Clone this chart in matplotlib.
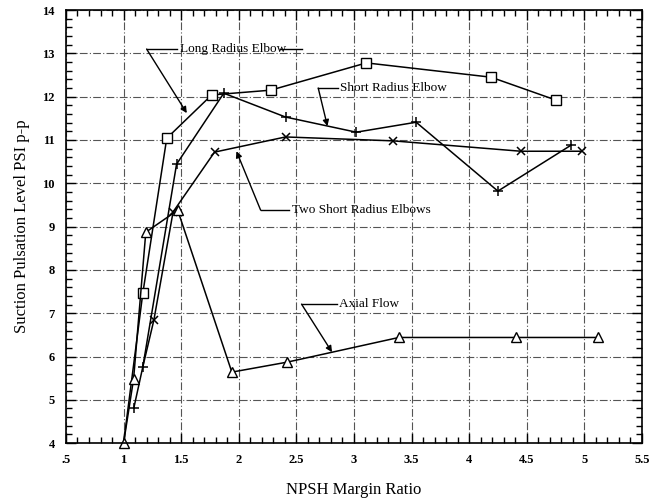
import matplotlib
matplotlib.use("Agg")
import matplotlib.pyplot as plt
import numpy as np
from matplotlib.ticker import MultipleLocator, FuncFormatter

plt.rcParams['font.family'] = ['Liberation Serif', 'DejaVu Serif']

# Long Radius Elbow (squares)
long_x = [1.0, 1.167, 1.375, 1.765, 2.277, 3.108, 4.19, 4.755]
long_y = [4.0, 7.46, 11.04, 12.04, 12.15, 12.78, 12.45, 11.92]

# Short Radius Elbow (plus)
short_x = [1.089, 1.167, 1.46, 1.87, 2.406, 3.02, 3.54, 4.25, 4.885]
short_y = [4.81, 5.76, 10.44, 12.08, 11.53, 11.18, 11.41, 9.82, 10.88]

# Two Short Radius Elbows (x)
two_x = [1.167, 1.263, 1.43, 1.79, 2.406, 3.34, 4.45, 4.98]
two_y = [5.76, 6.84, 9.34, 10.72, 11.07, 10.98, 10.74, 10.74]

# Axial Flow (triangles)
axial_x = [1.0, 1.087, 1.193, 1.47, 1.94, 2.42, 3.39, 4.41, 5.12]
axial_y = [4.0, 5.48, 8.87, 9.38, 5.64, 5.87, 6.44, 6.44, 6.44]

fig = plt.figure(figsize=(6.5, 5.03), dpi=100)
ax = fig.add_axes([0.1015, 0.119, 0.886, 0.861])

lw = 1.1
ax.plot(long_x, long_y, color='black', lw=lw, marker='s', ms=6.5,
        mfc='white', mec='black', mew=1.0, markevery=list(range(1, len(long_x))))
ax.plot(short_x, short_y, color='black', lw=lw, marker='+', ms=7, mew=1.1)
ax.plot(two_x, two_y, color='black', lw=lw, marker='x', ms=6, mew=1.1,
        markevery=list(range(1, len(two_x))))
ax.plot(axial_x, axial_y, color='black', lw=lw, marker='^', ms=6.5,
        mfc='white', mec='black', mew=1.0, clip_on=False)

ax.set_xlim(0.5, 5.5)
ax.set_ylim(4, 14)
ax.xaxis.set_major_locator(MultipleLocator(0.5))
ax.xaxis.set_minor_locator(MultipleLocator(0.1))
ax.yaxis.set_major_locator(MultipleLocator(1))
ax.yaxis.set_minor_locator(MultipleLocator(0.2))


def xfmt(v, pos):
    s = ('%g' % v)
    if s.startswith('0.'):
        s = s[1:]
    return s


ax.xaxis.set_major_formatter(FuncFormatter(xfmt))
ax.tick_params(which='both', direction='in', top=True, right=True,
               labelsize=9, width=1.0, color='black')
ax.tick_params(which='major', length=7, pad=8)
ax.tick_params(which='minor', length=4)
for lab in ax.get_xticklabels() + ax.get_yticklabels():
    lab.set_fontweight('bold')

ax.grid(True, which='major', color='#555555', lw=0.8, linestyle=(0, (7, 2, 1, 2)))
for sp in ax.spines.values():
    sp.set_linewidth(1.2)

ax.set_xlabel('NPSH Margin Ratio', fontsize=12, labelpad=11)
ax.set_ylabel('Suction Pulsation Level PSI p-p', fontsize=12, labelpad=9)

arrow_kw = dict(arrowstyle='-|>', color='black', lw=1.0, mutation_scale=9,
                shrinkA=0, shrinkB=0)
fs = 9.5

# Long Radius Elbow
ax.plot([1.20, 1.46], [13.1, 13.1], color='black', lw=1.0)
ax.plot([2.36, 2.55], [13.1, 13.1], color='black', lw=1.0)
ax.annotate('', xy=(1.549, 11.62), xytext=(1.20, 13.1), arrowprops=arrow_kw)
ax.text(1.49, 13.1, 'Long Radius Elbow', fontsize=fs, va='center', ha='left')

# Short Radius Elbow
ax.plot([2.69, 2.86], [12.2, 12.2], color='black', lw=1.0)
ax.annotate('', xy=(2.77, 11.32), xytext=(2.69, 12.2), arrowprops=arrow_kw)
ax.text(2.88, 12.2, 'Short Radius Elbow', fontsize=fs, va='center', ha='left')

# Two Short Radius Elbows
ax.plot([2.19, 2.44], [9.38, 9.38], color='black', lw=1.0)
ax.annotate('', xy=(1.98, 10.74), xytext=(2.19, 9.38), arrowprops=arrow_kw)
ax.text(2.46, 9.38, 'Two Short Radius Elbows', fontsize=fs, va='center', ha='left')

# Axial Flow
ax.plot([2.545, 2.85], [7.21, 7.21], color='black', lw=1.0)
ax.annotate('', xy=(2.81, 6.10), xytext=(2.545, 7.21), arrowprops=arrow_kw)
ax.text(2.87, 7.21, 'Axial Flow', fontsize=fs, va='center', ha='left')

fig.savefig('out.png', dpi=100)
